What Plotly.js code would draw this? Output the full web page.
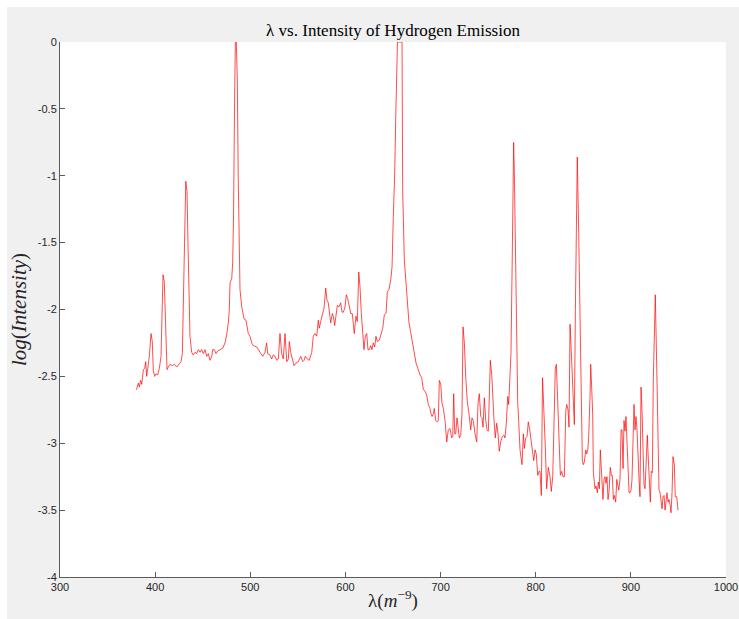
<!DOCTYPE html>
<html><head><meta charset="utf-8">
<script src="https://cdn.plot.ly/plotly-3.0.1.min.js"></script>
<style>html,body{margin:0;padding:0;background:#ffffff;} #chart{position:absolute;left:7px;top:7px;width:732px;height:612px;}</style>
</head><body><div id="chart"></div>
<script>
const wavelength = [380.4,382.3,383.4,384.8,385.9,387.6,389.0,390.1,391.1,392.5,393.9,395.7,397.0,398.1,399.5,400.9,402.7,404.4,406.2,407.2,408.3,409.6,411.1,412.5,413.8,415.6,418.0,420.1,422.7,425.1,427.2,428.6,429.6,430.9,432.2,433.5,434.5,435.6,436.6,438.4,440.1,441.9,443.7,445.4,447.2,448.9,450.6,452.4,454.2,455.9,457.7,459.5,460.5,462.2,464.0,465.8,468.2,471.0,473.4,475.2,476.9,478.0,478.7,480.5,481.5,482.4,483.4,484.3,485.3,486.4,487.3,488.1,489.2,491.0,493.4,495.5,497.9,499.7,501.5,503.2,506.8,510.2,513.1,515.5,517.2,518.3,520.7,522.5,524.2,526.0,527.8,529.5,531.2,533.0,534.7,536.5,538.3,540.0,541.0,542.8,544.6,546.0,548.1,550.5,553.0,555.1,556.5,557.8,559.9,562.0,564.6,566.2,568.0,569.8,571.5,572.5,574.0,575.7,577.5,579.3,580.6,582.0,583.1,584.5,586.2,587.3,588.7,590.1,591.5,593.3,595.0,596.4,597.8,599.6,600.9,602.4,603.8,605.6,607.2,608.3,609.3,611.1,612.5,614.0,615.3,616.7,618.2,619.5,620.9,622.4,623.7,625.1,626.6,627.9,629.3,630.8,632.1,633.5,635.6,637.4,639.2,640.9,642.7,644.0,645.8,647.6,649.0,650.3,651.8,652.9,653.9,654.7,656.3,657.9,659.5,660.2,660.8,661.9,663.7,665.1,666.8,668.6,670.3,672.1,674.2,676.6,678.4,680.2,681.9,683.7,685.4,687.1,688.9,690.0,691.0,692.4,693.4,694.9,696.6,697.6,698.7,700.2,701.5,702.9,704.7,706.5,708.1,709.9,711.7,712.8,713.8,714.9,715.9,717.3,718.7,719.7,721.2,722.5,723.6,725.0,726.4,728.1,729.9,731.7,733.0,734.4,736.2,738.0,739.4,740.7,742.2,743.6,744.6,746.0,747.5,748.8,750.2,751.2,752.3,753.8,754.8,756.2,757.5,759.0,760.4,761.7,763.2,764.9,766.7,767.7,769.1,770.6,771.6,773.0,774.0,775.4,776.1,776.8,777.5,778.5,780.0,781.1,782.1,783.5,785.6,787.0,788.0,789.5,790.9,792.2,793.7,795.1,796.4,797.9,799.3,800.6,802.1,803.5,804.5,805.9,807.2,808.7,810.1,811.5,813.2,815.0,816.4,817.9,819.2,820.6,821.7,823.1,824.5,825.9,827.3,828.7,830.1,831.6,832.6,834.0,835.0,836.1,837.9,839.5,840.6,841.7,842.4,843.7,845.2,846.6,847.6,849.0,850.1,851.1,852.6,853.6,854.7,855.7,857.1,857.8,858.9,859.9,860.6,862.3,863.4,864.8,865.8,866.9,867.9,869.0,870.0,870.7,871.8,872.8,873.9,874.9,876.0,877.1,878.4,879.5,880.5,881.6,882.6,884.1,885.2,886.2,887.3,888.6,889.7,890.7,891.8,892.8,893.9,894.9,896.0,897.0,898.1,899.1,900.2,901.2,902.3,903.3,904.4,905.4,906.5,907.5,908.6,909.6,910.7,911.7,912.8,913.8,914.9,915.9,917.3,918.3,919.4,920.5,921.5,922.6,923.6,924.7,925.7,927.2,928.6,929.6,930.7,931.7,932.8,933.8,934.9,935.9,937.0,938.0,939.1,940.1,941.2,942.2,943.3,944.3,945.7,946.7,948.2,949.6];
const logIntensity = [-2.60,-2.55,-2.58,-2.53,-2.56,-2.45,-2.44,-2.39,-2.50,-2.41,-2.35,-2.18,-2.24,-2.46,-2.50,-2.48,-2.49,-2.44,-2.35,-2.05,-1.74,-1.79,-2.18,-2.45,-2.43,-2.41,-2.42,-2.41,-2.43,-2.41,-2.39,-2.33,-2.05,-1.50,-1.04,-1.12,-1.50,-2.00,-2.20,-2.32,-2.34,-2.32,-2.33,-2.30,-2.32,-2.30,-2.33,-2.30,-2.35,-2.33,-2.38,-2.35,-2.30,-2.30,-2.33,-2.31,-2.30,-2.29,-2.25,-2.19,-2.10,-2.00,-1.80,-1.77,-1.65,-1.30,-0.50,0,0,-0.30,-1.00,-1.41,-1.85,-1.98,-2.07,-2.08,-2.18,-2.20,-2.25,-2.27,-2.28,-2.32,-2.35,-2.32,-2.25,-2.33,-2.34,-2.37,-2.34,-2.35,-2.38,-2.37,-2.18,-2.33,-2.37,-2.18,-2.39,-2.37,-2.24,-2.33,-2.39,-2.42,-2.40,-2.39,-2.35,-2.39,-2.38,-2.35,-2.37,-2.38,-2.32,-2.20,-2.18,-2.20,-2.08,-2.14,-2.09,-2.04,-1.99,-1.84,-1.93,-1.95,-2.03,-2.10,-2.03,-2.05,-2.12,-2.04,-1.97,-1.98,-1.95,-2.02,-2.02,-1.98,-1.89,-1.92,-1.98,-2.03,-2.03,-2.10,-2.18,-2.05,-2.09,-1.72,-1.83,-2.03,-2.20,-2.30,-2.20,-2.18,-2.30,-2.30,-2.27,-2.30,-2.25,-2.28,-2.20,-2.24,-2.23,-2.18,-2.14,-2.04,-2.03,-1.87,-1.85,-1.78,-1.68,-1.31,-0.98,-0.56,-0.16,0,0,0,0,-1.11,-1.41,-1.63,-1.80,-1.98,-2.10,-2.17,-2.25,-2.33,-2.40,-2.45,-2.49,-2.51,-2.60,-2.61,-2.64,-2.71,-2.74,-2.78,-2.80,-2.78,-2.74,-2.83,-2.84,-2.83,-2.53,-2.56,-2.70,-2.74,-2.83,-2.99,-2.90,-2.89,-2.96,-2.95,-2.63,-2.93,-2.93,-2.81,-2.88,-2.96,-2.94,-2.78,-2.13,-2.25,-2.50,-2.69,-2.78,-2.90,-2.81,-2.83,-2.93,-2.99,-2.70,-2.63,-2.80,-2.81,-2.88,-2.66,-2.83,-2.90,-2.91,-2.69,-2.38,-2.49,-2.70,-2.83,-2.96,-2.85,-2.93,-3.06,-2.99,-2.95,-2.94,-2.96,-2.85,-2.65,-2.71,-2.43,-2.33,-1.58,-0.96,-0.75,-0.96,-1.46,-2.08,-2.70,-2.83,-3.05,-3.16,-2.93,-3.04,-2.96,-2.95,-2.84,-2.90,-2.98,-3.05,-3.13,-3.05,-3.08,-3.24,-3.21,-3.21,-3.39,-2.51,-2.73,-3.03,-3.34,-3.18,-3.25,-3.36,-3.25,-2.83,-2.44,-2.41,-2.70,-3.08,-3.24,-3.21,-3.25,-3.25,-2.76,-2.71,-2.75,-2.88,-2.11,-2.40,-2.78,-2.86,-2.00,-1.70,-0.86,-1.43,-2.08,-2.53,-3.13,-3.16,-3.14,-3.05,-3.08,-3.05,-2.95,-2.65,-2.41,-2.60,-2.78,-3.22,-3.34,-3.32,-3.37,-3.29,-3.34,-3.05,-3.20,-3.30,-3.42,-3.27,-3.25,-3.30,-3.25,-3.42,-3.36,-3.18,-3.24,-3.24,-3.42,-3.39,-3.44,-3.27,-3.30,-3.35,-3.27,-2.90,-2.90,-3.19,-2.83,-2.91,-2.80,-3.05,-3.27,-3.37,-3.37,-3.35,-3.27,-2.98,-2.71,-2.90,-2.80,-2.90,-3.14,-3.27,-3.40,-2.58,-2.75,-3.10,-3.31,-3.34,-3.13,-2.94,-3.11,-3.34,-3.44,-3.21,-3.22,-2.53,-2.03,-1.89,-2.43,-3.08,-3.35,-3.37,-3.42,-3.49,-3.40,-3.39,-3.50,-3.42,-3.37,-3.44,-3.42,-3.46,-3.52,-3.37,-3.10,-3.16,-3.40,-3.40,-3.50];
const xTickVals = [300,400,500,600,700,800,900,1000];
const xTickText = ['300','400','500','600','700','800','900','1000'];
const yTickVals = [0,-0.5,-1,-1.5,-2,-2.5,-3,-3.5,-4];
const yTickText = ['0','-0.5','-1','-1.5','-2','-2.5','-3','-3.5','-4'];
const chartTitle = '\u03bb vs. Intensity of Hydrogen Emission';
const xTitle = '\u03bb(<i>m</i><sup>\u22129</sup>)';
const yTitle = '<i>log</i>(<i>Intensity</i>)';

const axisCommon = {
  showline: true, linecolor: '#5a5a5a', linewidth: 1,
  ticks: 'inside', ticklen: 5, tickcolor: '#5a5a5a', tickwidth: 1,
  showgrid: false, zeroline: false,
  tickfont: {family: 'Liberation Sans, Arial, sans-serif', size: 11, color: '#262626'}
};

const trace = {
  x: wavelength, y: logIntensity, type: 'scatter', mode: 'lines',
  line: {color: '#ff0000', width: 0.7}, hoverinfo: 'skip'
};

const layout = {
  width: 732, height: 612,
  paper_bgcolor: '#f0f0f0', plot_bgcolor: '#ffffff',
  margin: {l: 53, r: 13, t: 35, b: 42},
  showlegend: false,
  title: {text: chartTitle, x: 0.5, xref: 'paper', y: 0.962, yref: 'container', yanchor: 'middle',
          font: {family: 'Liberation Serif, Times New Roman, serif', size: 17, color: '#000000'}},
  xaxis: Object.assign({}, axisCommon, {
    range: [300, 1000], tickmode: 'array', tickvals: xTickVals, ticktext: xTickText,
    title: {text: xTitle, standoff: 1, font: {family: 'Liberation Serif, Times New Roman, serif', size: 19, color: '#262626'}}
  }),
  yaxis: Object.assign({}, axisCommon, {
    range: [-4, 0], tickmode: 'array', tickvals: yTickVals, ticktext: yTickText,
    title: {text: yTitle, standoff: 5, font: {family: 'Liberation Serif, Times New Roman, serif', size: 21, color: '#262626'}}
  })
};

Plotly.newPlot('chart', [trace], layout, {displayModeBar: false, staticPlot: true});
</script>
</body></html>
